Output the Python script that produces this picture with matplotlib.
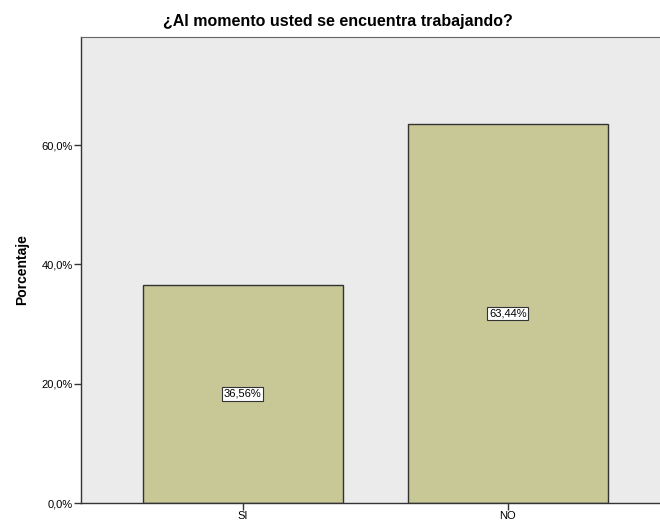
import matplotlib.pyplot as plt
from matplotlib.ticker import FuncFormatter

plt.rcParams['font.family'] = ['Liberation Sans', 'DejaVu Sans']

categories = ["SI", "NO"]
percentages = [36.56, 63.44]
yticks = [0, 20, 40, 60]

fig = plt.figure(figsize=(6.6, 5.25), dpi=100)
ax = fig.add_axes([0.1227, 0.0419, 0.8773, 0.8876])
ax.set_facecolor("#ebebeb")

x = range(len(categories))
ax.bar(x, percentages, width=0.755, color="#c8c796", edgecolor="#333333", linewidth=1)

for xi, v in zip(x, percentages):
    ax.text(xi, v / 2, f"{v:.2f}%".replace(".", ","), ha="center", va="center",
            fontsize=8, color="black",
            bbox=dict(boxstyle="square,pad=0.15", facecolor="white", edgecolor="#333333", linewidth=0.8))

ax.set_xlim(-0.611, 1.574)
ax.set_ylim(0, 78.1)
ax.set_xticks(list(x))
ax.set_xticklabels(categories, fontsize=8)
ax.set_yticks(yticks)
ax.yaxis.set_major_formatter(FuncFormatter(lambda v, p: f"{v:.1f}%".replace(".", ",")))
ax.tick_params(axis="both", labelsize=8, length=5, width=1, color="#333333", pad=1)

for s in ["left", "bottom"]:
    ax.spines[s].set_color("#333333")
    ax.spines[s].set_linewidth(1)
ax.spines["top"].set_color("#666666")
ax.spines["right"].set_visible(False)

ax.set_ylabel("Porcentaje", fontsize=10, fontweight="bold", labelpad=9)
fig.suptitle("¿Al momento usted se encuentra trabajando?", fontsize=11.5, fontweight="bold",
             x=0.512, y=0.973)

fig.savefig("out.png", dpi=100)
